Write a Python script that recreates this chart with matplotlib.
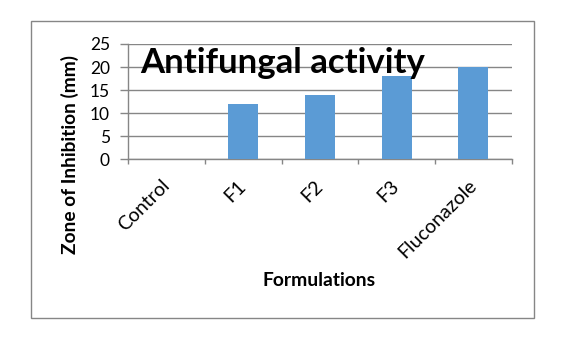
import matplotlib
matplotlib.use("Agg")
import matplotlib.pyplot as plt
from matplotlib.patches import Rectangle

# data
formulations = ["Control", "F1", "F2", "F3", "Fluconazole"]
zone_mm = [0, 12, 14, 18, 20]
y_ticks = [0, 5, 10, 15, 20, 25]

bar_color = "#5B9BD5"
grey = "#868686"
W, H = 564, 357

plt.rcParams["font.family"] = ["Lato", "DejaVu Sans"]

fig = plt.figure(figsize=(W / 100, H / 100), dpi=100)
ax = fig.add_axes([128.3 / W, 1 - 159.3 / H, (511.7 - 128.3) / W, (159.3 - 44) / H])

x = list(range(len(formulations)))
ax.bar(x, zone_mm, width=0.39, color=bar_color, zorder=3)
ax.set_xlim(-0.5, len(formulations) - 0.5)
ax.set_ylim(0, 25)

ax.set_yticks(y_ticks)
ax.yaxis.grid(True, color=grey, linewidth=1)
ax.tick_params(axis="y", length=8 / 1.389, width=1, color=grey, pad=7.5,
               labelsize=12.5, labelcolor="black")

# labels at category centres, tick marks at category boundaries
ax.set_xticks(x)
ax.set_xticklabels(formulations)
ax.set_xticks([i - 0.5 for i in range(len(formulations) + 1)], minor=True)
ax.tick_params(axis="x", which="major", length=0, pad=17, labelsize=14)
ax.tick_params(axis="x", which="minor", length=5 / 1.389, width=1, color=grey)
plt.setp(ax.get_xticklabels(), rotation=45, ha="right", va="center",
         rotation_mode="anchor")

for side in ["top", "right"]:
    ax.spines[side].set_visible(False)
for side in ["left", "bottom"]:
    ax.spines[side].set_color(grey)
    ax.spines[side].set_linewidth(1)

fig.text(140 / W, 1 - 72.7 / H, "Antifungal activity", fontsize=25,
         fontweight="bold", ha="left", va="baseline")
fig.text(70 / W, 1 - 155 / H, "Zone of Inhibition (mm)", rotation=90,
         fontsize=13.8, fontweight="bold", ha="center", va="center")
fig.text(319 / W, 1 - 280.7 / H, "Formulations", fontsize=13.9,
         fontweight="bold", ha="center", va="center")

fig.patches.append(Rectangle((30.7 / W, 1 - 317.7 / H), (534 - 30.7) / W,
                             (317.7 - 21) / H, transform=fig.transFigure,
                             fill=False, edgecolor=grey, linewidth=1))

fig.savefig("out.png", dpi=100)
